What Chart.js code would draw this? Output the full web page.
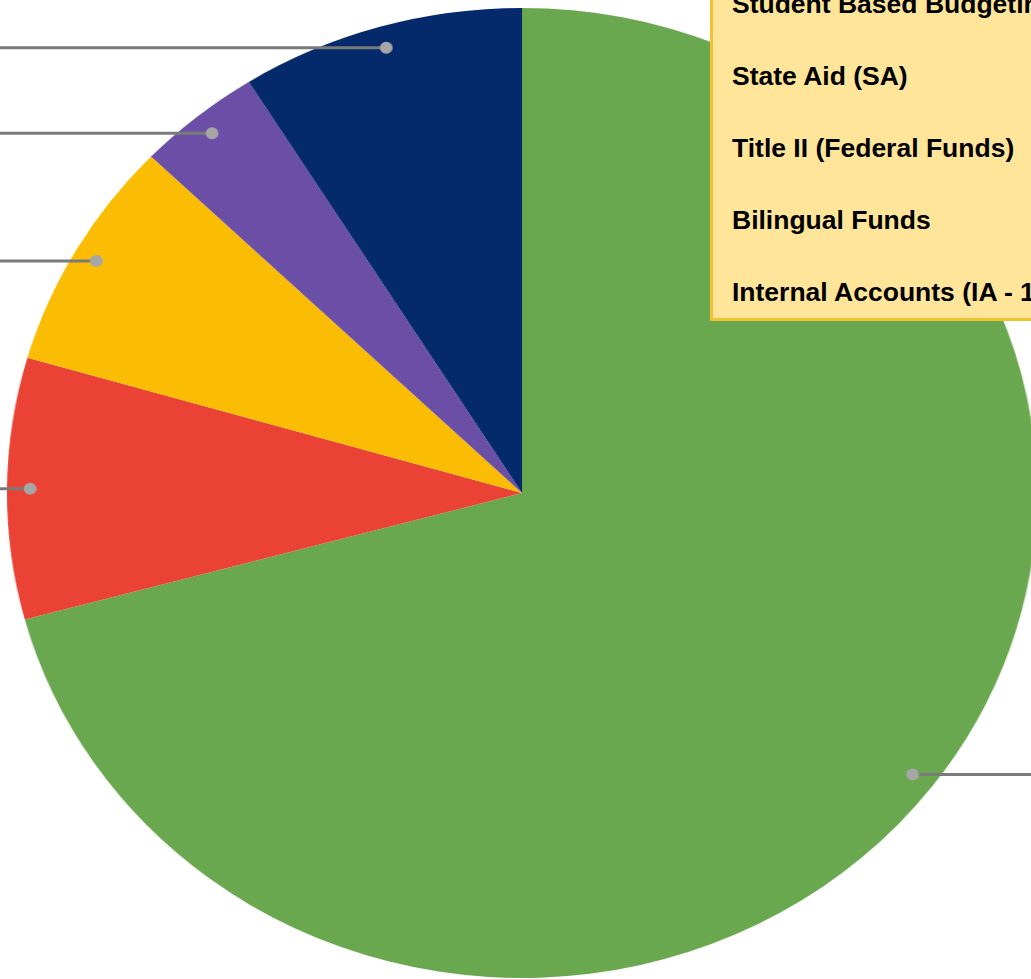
<!DOCTYPE html>
<html>
<head>
<meta charset="utf-8">
<script src="https://cdn.jsdelivr.net/npm/chart.js@4"></script>
<style>
  html, body { margin: 0; padding: 0; background: #fff; }
  body { width: 1031px; height: 979px; overflow: hidden; position: relative; }
  #wrap {
    position: absolute; left: 22px; top: -7px; width: 1000px; height: 1000px;
    transform: scaleX(1.062); transform-origin: 500px 500px;
  }
  #legendBox {
    position: absolute; left: 710px; top: -60px; width: 420px; height: 381px;
    box-sizing: border-box; background: #ffe599; border: 3px solid #f1c232;
    padding-top: 25px; padding-left: 19px;
    font-family: "Liberation Sans", Arial, sans-serif; font-weight: bold; font-size: 26.5px;
    color: #000; white-space: nowrap;
  }
  #legendBox div { height: 72px; line-height: 72px; }
</style>
</head>
<body>
<div id="wrap"><canvas id="pieChart"></canvas></div>
<div id="legendBox"></div>
<script>
// Funding sources, clockwise from the top
const labels = [
    "Student Based Budgeting",
    "State Aid (SA)",
    "Title II (Federal Funds)",
    "Bilingual Funds",
    "Internal Accounts (IA - 100)"
];
const shares = [70.8, 8.7, 7.7, 3.9, 8.9];
const sliceColors = ["#6aa84f", "#ea4335", "#fbbc04", "#6b4fa7", "#052a6b"];

// text legend box
labels.forEach(l => {
    const row = document.createElement("div");
    row.textContent = l;
    document.getElementById("legendBox").appendChild(row);
});

// leader lines with a dot inside each slice
const leaderLines = {
    id: "leaderLines",
    afterDatasetsDraw(chart) {
        const ctx = chart.ctx;
        const arcs = chart.getDatasetMeta(0).data;
        ctx.save();
        arcs.forEach(arc => {
            const p = arc.getProps(["x", "y", "startAngle", "endAngle", "outerRadius"], true);
            const mid = (p.startAngle + p.endAngle) / 2;
            const px = p.x + Math.cos(mid) * p.outerRadius * 0.955;
            const py = p.y + Math.sin(mid) * p.outerRadius * 0.955;
            const ex = Math.cos(mid) < 0 ? 0 : chart.width;
            ctx.strokeStyle = "#7a7a7a";
            ctx.lineWidth = 3;
            ctx.beginPath();
            ctx.moveTo(px, py);
            ctx.lineTo(ex, py);
            ctx.stroke();
            ctx.fillStyle = "#a6a6a6";
            ctx.beginPath();
            ctx.arc(px, py, 6, 0, Math.PI * 2);
            ctx.fill();
        });
        ctx.restore();
    }
};

new Chart(document.getElementById("pieChart"), {
    type: "pie",
    data: {
        labels: labels,
        datasets: [{
            data: shares,
            backgroundColor: sliceColors,
            borderWidth: 0,
            hoverOffset: 0
        }]
    },
    options: {
        responsive: true,
        maintainAspectRatio: false,
        animation: false,
        radius: 485,
        layout: { padding: 0 },
        plugins: {
            legend: { display: false },
            tooltip: { enabled: false }
        }
    },
    plugins: [leaderLines]
});
</script>
</body>
</html>
